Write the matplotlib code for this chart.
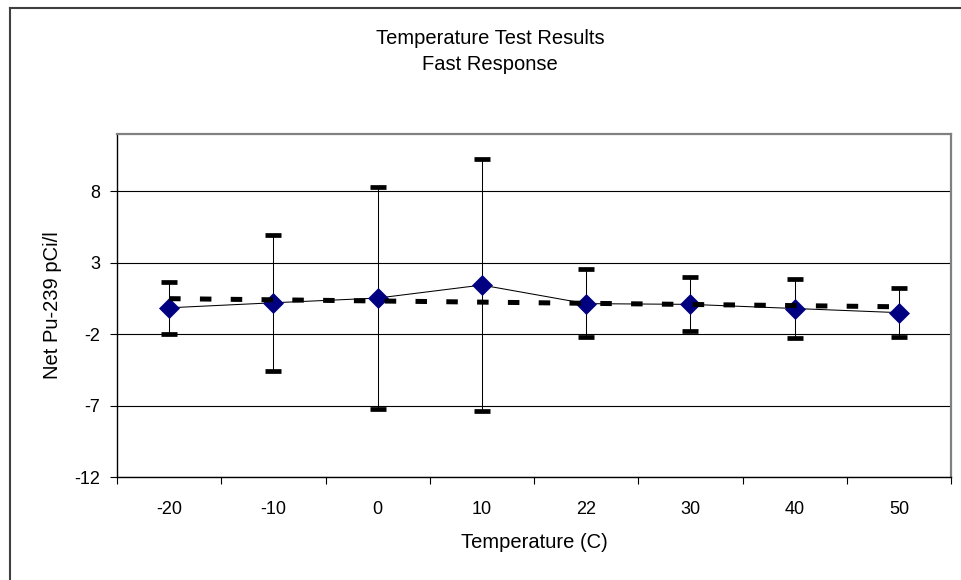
import matplotlib
matplotlib.use("Agg")
import matplotlib.pyplot as plt
from matplotlib.lines import Line2D

# data
temps = ["-20", "-10", "0", "10", "22", "30", "40", "50"]
net_pu = [-0.16, 0.19, 0.52, 1.43, 0.13, 0.08, -0.21, -0.50]
err_top = [1.64, 4.90, 8.31, 10.26, 2.52, 1.97, 1.83, 1.20]
err_bottom = [-2.02, -4.59, -7.27, -7.36, -2.23, -1.77, -2.30, -2.19]
trend_ends = [0.48, -0.09]  # linear trend at first and last category
y_ticks = [-12, -7, -2, 3, 8]

plt.rcParams["font.family"] = ["Liberation Sans", "DejaVu Sans"]

W, H = 961, 580
fig = plt.figure(figsize=(W / 100, H / 100), dpi=100)

# plot area in pixels: left, right, top, bottom
pl, pr, pt, pb = 117, 951, 134, 477
ax = fig.add_axes([pl / W, 1 - pb / H, (pr - pl) / W, (pb - pt) / H])

x = list(range(len(temps)))
lower = [v - lo for v, lo in zip(net_pu, err_bottom)]
upper = [hi - v for v, hi in zip(net_pu, err_top)]

ax.errorbar(x, net_pu, yerr=[lower, upper], fmt="none", ecolor="black",
            elinewidth=0.75, capsize=6, capthick=3.4, zorder=2)
ax.plot(x, net_pu, color="black", lw=0.75, zorder=3)
ax.plot(x, net_pu, linestyle="none", marker="D", markersize=10.5,
        markerfacecolor="#000080", markeredgecolor="#000080",
        markeredgewidth=0.5, zorder=4)
ax.plot([x[0], x[-1]], trend_ends, color="black", lw=3.6,
        linestyle=(0, (2.3, 3.86)), dash_capstyle="butt", zorder=5)

ax.set_xlim(-0.5, len(temps) - 0.5)
ax.set_ylim(-12, 12)
ax.set_yticks(y_ticks)
ax.set_yticklabels([str(t) for t in y_ticks])
ax.set_xticks(x)
ax.set_xticklabels(temps)
ax.set_xticks([i - 0.5 for i in range(len(temps) + 1)], minor=True)
ax.tick_params(axis="x", which="major", length=0, pad=17, labelsize=13)
ax.tick_params(axis="x", which="minor", length=5, width=0.8, color="black")
ax.tick_params(axis="y", length=5, width=0.8, pad=7, labelsize=13)

ax.grid(axis="y", color="black", lw=0.8)
ax.set_axisbelow(True)

for side in ["left", "bottom"]:
    ax.spines[side].set_color("black")
    ax.spines[side].set_linewidth(1.0)
for side in ["top", "right"]:
    ax.spines[side].set_color("#808080")
    ax.spines[side].set_linewidth(1.6)

ax.set_xlabel("Temperature (C)", fontsize=14.5, labelpad=11)
ax.set_ylabel("Net Pu-239 pCi/l", fontsize=14.5, labelpad=9)

fig.text(490 / W, 1 - 39 / H, "Temperature Test Results", ha="center",
         va="center", fontsize=14.5)
fig.text(490 / W, 1 - 64 / H, "Fast Response", ha="center",
         va="center", fontsize=14.5)

# outer chart frame (right and bottom edges fall outside the image)
fx, fy = 10 / W, 1 - 8 / H
fig.add_artist(Line2D([fx, 1], [fy, fy], color="#404040", lw=1.5))
fig.add_artist(Line2D([fx, fx], [0, fy], color="#404040", lw=1.5))

fig.savefig("out.png", dpi=100)
